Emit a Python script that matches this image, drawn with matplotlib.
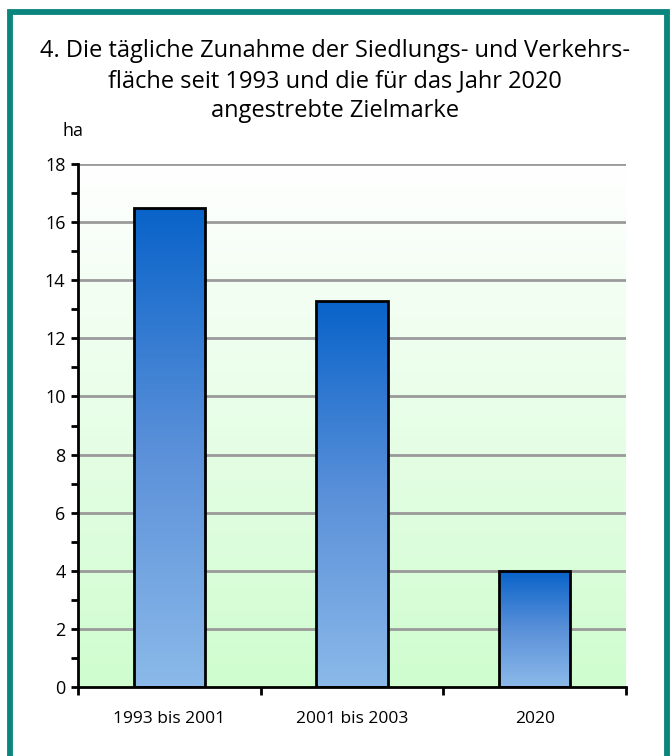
import numpy as np
import matplotlib
matplotlib.use("Agg")
import matplotlib.pyplot as plt
from matplotlib.patches import Rectangle
from matplotlib.colors import LinearSegmentedColormap

categories = ["1993 bis 2001", "2001 bis 2003", "2020"]
values = [16.5, 13.3, 4.0]
yticks = [0, 2, 4, 6, 8, 10, 12, 14, 16, 18]
title_lines = ["4. Die tägliche Zunahme der Siedlungs- und Verkehrs-",
               "fläche seit 1993 und die für das Jahr 2020",
               "angestrebte Zielmarke"]
unit = "ha"

plt.rcParams['font.family'] = ['Open Sans', 'DejaVu Sans']

W, H = 670, 756
fig = plt.figure(figsize=(W / 100, H / 100), dpi=100)
fig.patch.set_facecolor("white")

# teal frame
frame = Rectangle((9.5 / W, -0.05), (666.5 - 9.5) / W, 1.05 - 12 / H,
                  transform=fig.transFigure, fill=False,
                  edgecolor="#0b867e", linewidth=4.2, zorder=0)
fig.patches.append(frame)

left, right, top, bottom = 78, 626, 164, 687
ax = fig.add_axes([left / W, 1 - bottom / H, (right - left) / W, (bottom - top) / H])

n = len(categories)
x = np.arange(n)
ax.set_xlim(-0.5, n - 0.5)
ax.set_ylim(0, 18)

# background gradient
bg_cmap = LinearSegmentedColormap.from_list("bg", ["#cffdcf", "#ffffff"])
grad = np.linspace(0, 1, 256).reshape(-1, 1)
ax.imshow(grad, cmap=bg_cmap, aspect="auto", origin="lower",
          extent=(-0.5, n - 0.5, 0, 18), zorder=0)

# grid
for t in yticks[1:]:
    ax.axhline(t, color="#9a9a9a", linewidth=2, zorder=1)

bar_cmap = LinearSegmentedColormap.from_list("bar", ["#8bb9e9", "#5a90d9", "#0863c9"])
bw = 0.39
bars = ax.bar(x, values, width=bw, facecolor="none", edgecolor="black",
              linewidth=2, zorder=3)
for b in bars:
    bx, by = b.get_x(), b.get_y()
    bh, bwid = b.get_height(), b.get_width()
    im = ax.imshow(grad, cmap=bar_cmap, aspect="auto", origin="lower",
                   extent=(bx, bx + bwid, by, by + bh), zorder=2)
    im.set_clip_path(b)

ax.set_xlim(-0.5, n - 0.5)
ax.set_ylim(0, 18)

for s in ["top", "right"]:
    ax.spines[s].set_visible(False)
ax.spines["left"].set_linewidth(2)
ax.spines["bottom"].set_linewidth(2)
ax.spines["left"].set_zorder(4)
ax.spines["bottom"].set_zorder(4)

ax.set_yticks(yticks)
ax.set_yticklabels([str(t) for t in yticks], fontsize=13)
ax.set_yticks(np.arange(1, 18, 2), minor=True)
ax.tick_params(axis="y", which="major", length=5, width=2, direction="out", pad=4)
ax.tick_params(axis="y", which="minor", length=5, width=2, direction="out")

ax.set_xticks(np.arange(-0.5, n, 1))
ax.set_xticklabels([])
ax.set_xticks(x, minor=True)
ax.set_xticklabels(categories, minor=True, fontsize=12.5)
ax.tick_params(axis="x", which="major", length=6, width=2, direction="out")
ax.tick_params(axis="x", which="minor", length=0, pad=17)

baselines = [57, 87.5, 117]
for line, yb in zip(title_lines, baselines):
    fig.text(335 / W, 1 - yb / H, line, ha="center", va="baseline", fontsize=17)
fig.text(73 / W, 1 - 136 / H, unit, ha="center", va="baseline", fontsize=13)

fig.savefig("out.png", dpi=100, facecolor="white")
